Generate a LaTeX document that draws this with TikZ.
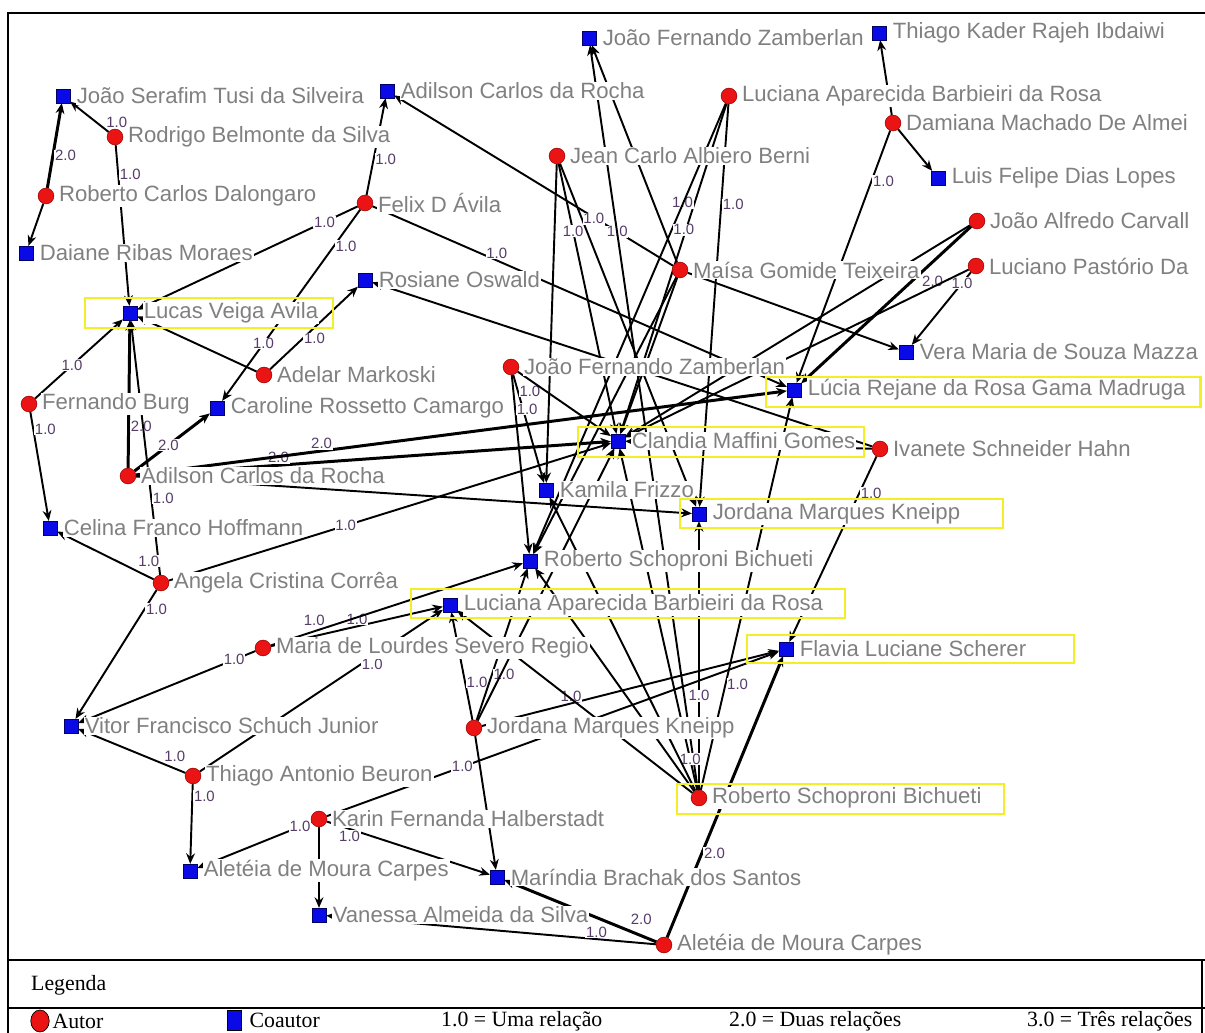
\documentclass[tikz,border=0pt]{standalone}
\usepackage{fontspec}
\newfontfamily\nomefonte{Liberation Sans}
\newfontfamily\legfonte{Liberation Serif}
\newcommand{\fnome}{\nomefonte\fontsize{12.6}{14}\selectfont}
\newcommand{\fpeso}{\nomefonte\fontsize{8.5}{9}\selectfont}
\newcommand{\fleg}{\legfonte\fontsize{12.4}{15}\selectfont}
\usetikzlibrary{positioning, arrows.meta, shapes.geometric}
\definecolor{nomecinza}{RGB}{128,128,128}
\definecolor{pesoroxo}{RGB}{85,60,105}
\definecolor{amarelo}{RGB}{242,238,40}
\definecolor{autorverm}{RGB}{235,20,20}
\definecolor{coautorazul}{RGB}{10,10,230}
\pgfdeclarelayer{fundo}
\pgfsetlayers{fundo,main}

\begin{document}
\begin{tikzpicture}[x=0.02cm, y=-0.02cm,
  autor/.style={circle, fill=autorverm, draw=red!60!black, line width=0.3pt, minimum size=9pt, inner sep=0pt},
  coautor/.style={rectangle, fill=coautorazul, draw=blue!40!black, line width=0.3pt, minimum size=7.8pt, inner sep=0pt},
  nome/.style={font=\fnome, text=nomecinza, fill=white, inner sep=0.6pt},
  rel/.style={-{Stealth[length=6pt,width=5pt]}, line width=1.1pt},
  rel2/.style={rel, line width=1.7pt},
  peso/.style={font=\fpeso, text=pesoroxo, fill=white, inner sep=0.4pt},
  destaque/.style={draw=amarelo, line width=1.7pt},
  moldura/.style={line width=1.1pt},
  leg/.style={font=\fleg, inner sep=0.5pt}]
  \useasboundingbox (0,0) rectangle (1205,1033);

  % 合作者 (Coautor)
  \node[coautor] (JSTSc) at (63,96) {};    \node[nome, right=3pt of JSTSc] (JSTSct) {João Serafim Tusi da Silveira};
  \node[coautor] (ACRc) at (387,91) {};    \node[nome, right=3pt of ACRc] (ACRct) {Adilson Carlos da Rocha};
  \node[coautor] (JFZc) at (589,38) {};    \node[nome, right=3pt of JFZc] (JFZct) {João Fernando Zamberlan};
  \node[coautor] (TKRIc) at (879,33) {};   \node[nome, right=3pt of TKRIc] (TKRIct) {Thiago Kader Rajeh Ibdaiwi};
  \node[coautor] (LFDLc) at (938,178) {};  \node[nome, right=3pt of LFDLc] (LFDLct) {Luis Felipe Dias Lopes};
  \node[coautor] (DRMc) at (26,253) {};    \node[nome, right=3pt of DRMc] (DRMct) {Daiane Ribas Moraes};
  \node[coautor] (LVAc) at (130,313) {};   \node[nome, right=3pt of LVAc] (LVAct) {Lucas Veiga Avila};
  \node[coautor] (ROc) at (365,280) {};    \node[nome, right=3pt of ROc] (ROct) {Rosiane Oswald};
  \node[coautor] (VMSMc) at (906,352) {};  \node[nome, right=3pt of VMSMc] (VMSMct) {Vera Maria de Souza Mazza};
  \node[coautor] (CRCc) at (217,408) {};   \node[nome, right=3pt of CRCc] (CRCct) {Caroline Rossetto Camargo};
  \node[coautor] (LRRGMc) at (794,390) {}; \node[nome, right=3pt of LRRGMc] (LRRGMct) {Lúcia Rejane da Rosa Gama Madruga};
  \node[coautor] (CMGc) at (618,441) {};   \node[nome, right=3pt of CMGc] (CMGct) {Clandia Maffini Gomes};
  \node[coautor] (KFc) at (546,490) {};    \node[nome, right=3pt of KFc] (KFct) {Kamila Frizzo};
  \node[coautor] (JMKc) at (699,514) {};   \node[nome, right=3pt of JMKc] (JMKct) {Jordana Marques Kneipp};
  \node[coautor] (CFHc) at (50,528) {};    \node[nome, right=3pt of CFHc] (CFHct) {Celina Franco Hoffmann};
  \node[coautor] (RSBc) at (530,561) {};   \node[nome, right=3pt of RSBc] (RSBct) {Roberto Schoproni Bichueti};
  \node[coautor] (LABRc) at (450,605) {};  \node[nome, right=3pt of LABRc] (LABRct) {Luciana Aparecida Barbieiri da Rosa};
  \node[coautor] (FLSc) at (786,649) {};   \node[nome, right=3pt of FLSc] (FLSct) {Flavia Luciane Scherer};
  \node[coautor] (VFSJc) at (71,726) {};   \node[nome, right=3pt of VFSJc] (VFSJct) {Vitor Francisco Schuch Junior};
  \node[coautor] (AMCc) at (190,871) {};   \node[nome, right=3pt of AMCc] (AMCct) {Aletéia de Moura Carpes};
  \node[coautor] (MBSc) at (497,877) {};   \node[nome, right=3pt of MBSc] (MBSct) {Maríndia Brachak dos Santos};
  \node[coautor] (VASc) at (319,915) {};   \node[nome, right=3pt of VASc] (VASct) {Vanessa Almeida da Silva};

  % 作者 (Autor)
  \node[autor] (RBELa) at (115,137) {};  \node[nome, right=2pt of RBELa] (RBELat) {Rodrigo Belmonte da Silva};
  \node[autor] (RCDa) at (46,196) {};    \node[nome, right=2pt of RCDa] (RCDat) {Roberto Carlos Dalongaro};
  \node[autor] (FDAa) at (365,203) {};   \node[nome, right=2pt of FDAa] (FDAat) {Felix D Ávila};
  \node[autor] (JCABa) at (557,156) {};  \node[nome, right=2pt of JCABa] (JCABat) {Jean Carlo Albiero Berni};
  \node[autor] (LABRa) at (729,96) {};   \node[nome, right=2pt of LABRa] (LABRat) {Luciana Aparecida Barbieiri da Rosa};
  \node[autor] (DMAa) at (893,123) {};   \node[nome, right=2pt of DMAa] (DMAat) {Damiana Machado De Almei};
  \node[autor] (JACa) at (977,221) {};   \node[nome, right=2pt of JACa] (JACat) {João Alfredo Carvall};
  \node[autor] (LPDa) at (976,266) {};   \node[nome, right=2pt of LPDa] (LPDat) {Luciano Pastório Da};
  \node[autor] (MGTa) at (680,270) {};   \node[nome, right=2pt of MGTa] (MGTat) {Maísa Gomide Teixeira};
  \node[autor] (AMa) at (264,375) {};    \node[nome, right=2pt of AMa] (AMat) {Adelar Markoski};
  \node[autor] (FBa) at (29,404) {};     \node[nome, right=2pt of FBa] (FBat) {Fernando Burg};
  \node[autor] (ACRa) at (128,476) {};   \node[nome, right=2pt of ACRa] (ACRat) {Adilson Carlos da Rocha};
  \node[autor] (JFZa) at (511,367) {};   \node[nome, right=2pt of JFZa] (JFZat) {João Fernando Zamberlan};
  \node[autor] (IHSa) at (880,449) {};   \node[nome, right=2pt of IHSa] (IHSat) {Ivanete Schneider Hahn};
  \node[autor] (ACCa) at (161,583) {};   \node[nome, right=2pt of ACCa] (ACCat) {Angela Cristina Corrêa};
  \node[autor] (MLSRa) at (263,648) {};  \node[nome, right=2pt of MLSRa] (MLSRat) {Maria de Lourdes Severo Regio};
  \node[autor] (JMKa) at (474,728) {};   \node[nome, right=2pt of JMKa] (JMKat) {Jordana Marques Kneipp};
  \node[autor] (TABa) at (193,776) {};   \node[nome, right=2pt of TABa] (TABat) {Thiago Antonio Beuron};
  \node[autor] (KFHa) at (319,819) {};   \node[nome, right=2pt of KFHa] (KFHat) {Karin Fernanda Halberstadt};
  \node[autor] (RSBa) at (699,798) {};   \node[nome, right=2pt of RSBa] (RSBat) {Roberto Schoproni Bichueti};
  \node[autor] (AMCa) at (664,945) {};   \node[nome, right=2pt of AMCa] (AMCat) {Aletéia de Moura Carpes};

  % 关系连线
  \begin{pgfonlayer}{fundo}
  \draw[rel] (RBELa) -- node[peso, pos=.1, above right] {1.0} (JSTSc);
  \draw[rel] (RBELa) -- node[peso, pos=.18, right] {1.0} (LVAc);
  \draw[rel2] (RCDa) -- node[peso, pos=.38, right] {2.0} (JSTSc);
  \draw[rel] (RCDa) -- (DRMc);
  \draw[rel] (FDAa) -- node[peso, pos=.37, right] {1.0} (ACRc);
  \draw[rel] (FDAa) -- node[peso, pos=.15] {1.0} (LVAc);
  \draw[rel] (FDAa) -- node[peso, pos=.19, right] {1.0} node[peso, pos=.7] {1.0} (CRCc);
  \draw[rel] (FDAa) -- node[peso, pos=.3, above] {1.0} (LRRGMc);
  \draw[rel] (MGTa) -- node[peso, pos=.2] {1.0} (ACRc);
  \draw[rel] (MGTa) -- (JFZc);
  \draw[rel] (RSBa) -- (JFZc);
  \draw[rel] (JCABa) -- node[peso, pos=.25] {1.0} (CMGc);
  \draw[rel] (JCABa) -- node[peso, pos=.16, right] {1.0} (JMKc);
  \draw[rel] (JCABa) -- (KFc);
  \draw[rel] (LABRa) -- node[peso, pos=.3, left] {1.0} (CMGc);
  \draw[rel] (LABRa) -- node[peso, pos=.28, right] {1.0} (RSBc);
  \draw[rel] (LABRa) -- node[peso, pos=.25, right] {1.0} (JMKc);
  \draw[rel] (DMAa) -- (TKRIc);
  \draw[rel] (DMAa) -- (LFDLc);
  \draw[rel] (DMAa) -- node[peso, pos=.2, right] {1.0} (LRRGMc);
  \draw[rel2] (JACa) -- node[peso, pos=.3, below right] {2.0} (LRRGMc);
  \draw[rel] (JACa) -- (CMGc);
  \draw[rel] (LPDa) -- node[peso, pos=.15] {1.0} (VMSMc);
  \draw[rel] (LPDa) -- (CMGc);
  \draw[rel] (MGTa) -- (VMSMc);
  \draw[rel] (MGTa) -- (CMGc);
  \draw[rel] (MGTa) -- (RSBc);
  \draw[rel] (IHSa) -- node[peso, pos=.2, right] {1.0} (FLSc);
  \draw[rel] (IHSa) -- (CMGc);
  \draw[rel] (IHSa) -- (ROc);
  \draw[rel] (AMa) -- node[peso, pos=.37, right] {1.0} (ROc);
  \draw[rel] (AMa) -- (LVAc);
  \draw[rel] (FBa) -- node[peso, pos=.42] {1.0} (LVAc);
  \draw[rel] (FBa) -- node[peso, pos=.16, right] {1.0} (CFHc);
  \draw[rel2] (ACRa) -- node[peso, pos=.28, right] {2.0} (LVAc);
  \draw[rel2] (ACRa) -- node[peso, pos=.45] {2.0} (CRCc);
  \draw[rel2] (ACRa) -- node[peso, pos=.3, above] {2.0} (CMGc);
  \draw[rel2] (ACRa) -- node[peso, pos=.285, above] {2.0} (LRRGMc);
  \draw[rel] (ACRa) -- (JMKc);
  \draw[rel] (ACCa) -- node[peso, pos=.3, right] {1.0} (LVAc);
  \draw[rel] (ACCa) -- node[peso, pos=.05, above=5pt] {1.0} (CFHc);
  \draw[rel] (ACCa) -- node[peso, pos=.4] {1.0} (CMGc);
  \draw[rel] (ACCa) -- node[peso, pos=.15, right] {1.0} (VFSJc);
  \draw[rel] (MLSRa) -- node[peso, pos=.12] {1.0} (VFSJc);
  \draw[rel] (MLSRa) -- node[peso, pos=.5, above] {1.0} (LABRc);
  \draw[rel] (MLSRa) -- node[peso, pos=.22, above left] {1.0} (RSBc);
  \draw[rel] (TABa) -- node[peso, pos=.66, right] {1.0} (LABRc);
  \draw[rel] (TABa) -- node[peso, pos=.1, above=3pt] {1.0} (VFSJc);
  \draw[rel] (TABa) -- node[peso, pos=.15, right] {1.0} (AMCc);
  \draw[rel] (KFHa) -- node[peso, pos=.1] {1.0} (AMCc);
  \draw[rel] (KFHa) -- (VASc);
  \draw[rel] (KFHa) -- node[peso, pos=.14, below] {1.0} (MBSc);
  \draw[rel] (KFHa) -- node[peso, pos=.3] {1.0} (FLSc);
  \draw[rel] (JMKa) -- node[peso, pos=.35, right] {1.0} (LABRc);
  \draw[rel] (JMKa) -- node[peso, pos=.3, right] {1.0} (RSBc);
  \draw[rel] (JMKa) -- (MBSc);
  \draw[rel] (JMKa) -- node[peso, pos=.3, above] {1.0} (FLSc);
  \draw[rel] (JMKa) -- (CMGc);
  \draw[rel] (RSBa) -- (LABRc);
  \draw[rel] (RSBa) -- node[peso, pos=.35] {1.0} (JMKc);
  \draw[rel] (RSBa) -- node[peso, pos=.09] {1.0} (CMGc);
  \draw[rel] (RSBa) -- (KFc);
  \draw[rel] (RSBa) -- (RSBc);
  \draw[rel] (RSBa) -- node[peso, pos=.27, right] {1.0} (LRRGMc);
  \draw[rel2] (AMCa) -- node[peso, pos=.3, right] {2.0} (FLSc);
  \draw[rel2] (AMCa) -- node[peso, pos=.1, above=5pt] {2.0} (MBSc);
  \draw[rel] (AMCa) -- node[peso, pos=.18, above] {1.0} (VASc);
  \draw[rel] (JFZa) -- node[peso, pos=.15, right] {1.0} (KFc);
  \draw[rel] (JFZa) -- node[peso, pos=.19, right] {1.0} (RSBc);
  \draw[rel] (JFZa) -- (CMGc);
  \end{pgfonlayer}

  % 标记
  \draw[destaque] (85,298) rectangle (333,328);
  \draw[destaque] (766,377) rectangle (1200,407);
  \draw[destaque] (578,427) rectangle (864,457);
  \draw[destaque] (680,499) rectangle (1003,528);
  \draw[destaque] (411,589) rectangle (845,618);
  \draw[destaque] (747,635) rectangle (1074,663);
  \draw[destaque] (677,784) rectangle (1004,814);

  % 图例
  \draw[moldura] (1205,13) -- (8,13) -- (8,1033);
  \draw[moldura] (8,960) -- (1205,960);
  \draw[moldura] (8,1008) -- (1205,1008);
  \draw[moldura] (1202,960) -- (1202,1033);
  \node[leg, anchor=west] (legTitulo) at (30,985) {Legenda};
  \node[ellipse, fill=autorverm, draw=black, line width=0.4pt, minimum width=10.5pt, minimum height=12.5pt, inner sep=0pt] (legA) at (40,1021) {};
  \node[leg, right=1pt of legA] (legAt) {Autor};
  \node[rectangle, fill=coautorazul, draw=black, line width=0.4pt, minimum width=8pt, minimum height=11.5pt, inner sep=0pt] (legC) at (234,1020) {};
  \node[leg, right=4pt of legC] (legCt) {Coautor};
  \node[leg, anchor=west] (leg1) at (440,1021) {1.0 = Uma relação};
  \node[leg, anchor=west] (leg2) at (728,1021) {2.0 = Duas relações};
  \node[leg, anchor=west] (leg3) at (1026,1021) {3.0 = Três relações};
\end{tikzpicture}
\end{document}
